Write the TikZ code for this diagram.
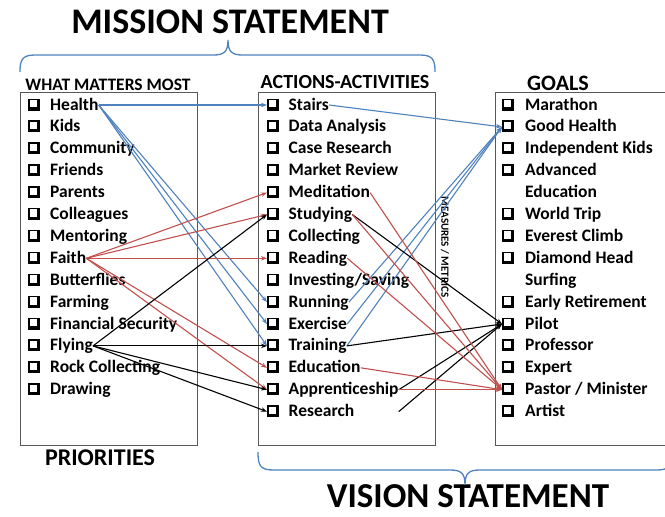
\documentclass[tikz,border=0pt]{standalone}
\usepackage{fontspec}
\setmainfont{Carlito}
\usetikzlibrary{arrows.meta}
\usetikzlibrary{calc}

\definecolor{linkblue}{HTML}{4F81BD}
\definecolor{linkred}{HTML}{C0504D}
\definecolor{boxgray}{HTML}{595959}

% shadowed check box in front of every entry
\newcommand{\chkbox}{\tikz[baseline=0pt, x=1pt, y=1pt] {\fill (0,-0.5) rectangle (12,11.5); \fill[white] (1.4,2.6) rectangle (9,10.1);}}

\tikzset{
    item/.style={anchor=base west, inner sep=0pt, text height=13pt, text depth=3pt, font=\bfseries\fontsize{17.5}{20}\selectfont},
    header/.style={anchor=base, inner sep=0pt, font=\bfseries\fontsize{#1}{#1}\selectfont},
    column/.style={draw=boxgray, line width=0.9pt},
    bracket/.style={linkblue, line width=1.3pt},
    link/.style={->, line width=1.1pt, >={Stealth[length=6pt, width=4.5pt]}},
}

\begin{document}
\begin{tikzpicture}[x=1pt, y=-1pt]
    \useasboundingbox (0,0) rectangle (665,517);
    \clip (0,0) rectangle (665,517);

    % ---- Titles and brackets ----
    \node [header=36] (mission) at (230,33) {MISSION STATEMENT};
    \node [header=35] (vision) at (468,507) {VISION STATEMENT};
    \node [header=24] (priorities) at (100,465) {PRIORITIES};

    \draw [bracket] (20,72) .. controls (20,60) and (22,55) .. (35,55) -- (213,55)
        .. controls (224,55) and (228,52) .. (228,40) .. controls (228,52) and (232,55) .. (243,55)
        -- (420,55) .. controls (433,55) and (435,60) .. (435,72);
    \draw [bracket] (258,452) .. controls (258,465) and (260,470) .. (273,470) -- (450,470)
        .. controls (461,470) and (465,473) .. (465,485) .. controls (465,473) and (469,470) .. (480,470)
        -- (657,470) .. controls (670,470) and (672,465) .. (672,452);

    % ---- Columns ----
    \draw [column] (20,92) rectangle (197,445);
    \draw [column] (258,92) rectangle (435,445);
    \draw [column] (495,92) rectangle (690,445);

    \node [header=17.5] (mattershead) at (108,90) {WHAT MATTERS MOST};
    \node [header=20] (actionshead) at (345,88) {ACTIONS-ACTIVITIES};
    \node [header=22] (goalshead) at (558,90) {GOALS};

    \node [rotate=-90, inner sep=0pt, font=\bfseries\fontsize{11}{11}\selectfont] (metrics) at (445,247) {MEASURES / METRICS};

    % What matters most
    \node [item] (health) at (28,110) {\chkbox\hspace{10pt}Health};
    \node [item] (kids) at (28,131.9) {\chkbox\hspace{10pt}Kids};
    \node [item] (community) at (28,153.8) {\chkbox\hspace{10pt}Community};
    \node [item] (friends) at (28,175.7) {\chkbox\hspace{10pt}Friends};
    \node [item] (parents) at (28,197.6) {\chkbox\hspace{10pt}Parents};
    \node [item] (colleagues) at (28,219.5) {\chkbox\hspace{10pt}Colleagues};
    \node [item] (mentoring) at (28,241.4) {\chkbox\hspace{10pt}Mentoring};
    \node [item] (faith) at (28,263.3) {\chkbox\hspace{10pt}Faith};
    \node [item] (butterflies) at (28,285.2) {\chkbox\hspace{10pt}Butterflies};
    \node [item] (farming) at (28,307.1) {\chkbox\hspace{10pt}Farming};
    \node [item] (financial) at (28,329) {\chkbox\hspace{10pt}Financial Security};
    \node [item] (flying) at (28,350.9) {\chkbox\hspace{10pt}Flying};
    \node [item] (rocks) at (28,372.8) {\chkbox\hspace{10pt}Rock Collecting};
    \node [item] (drawing) at (28,394.7) {\chkbox\hspace{10pt}Drawing};

    % Actions - activities
    \node [item] (stairs) at (267,110) {\chkbox\hspace{9.5pt}Stairs};
    \node [item] (data) at (267,131.9) {\chkbox\hspace{9.5pt}Data Analysis};
    \node [item] (cases) at (267,153.8) {\chkbox\hspace{9.5pt}Case Research};
    \node [item] (market) at (267,175.7) {\chkbox\hspace{9.5pt}Market Review};
    \node [item] (meditation) at (267,197.6) {\chkbox\hspace{9.5pt}Meditation};
    \node [item] (studying) at (267,219.5) {\chkbox\hspace{9.5pt}Studying};
    \node [item] (collecting) at (267,241.4) {\chkbox\hspace{9.5pt}Collecting};
    \node [item] (reading) at (267,263.3) {\chkbox\hspace{9.5pt}Reading};
    \node [item] (saving) at (267,285.2) {\chkbox\hspace{9.5pt}Investing/Saving};
    \node [item] (running) at (267,307.1) {\chkbox\hspace{9.5pt}Running};
    \node [item] (exercise) at (267,329) {\chkbox\hspace{9.5pt}Exercise};
    \node [item] (training) at (267,350.9) {\chkbox\hspace{9.5pt}Training};
    \node [item] (education) at (267,372.8) {\chkbox\hspace{9.5pt}Education};
    \node [item] (apprentice) at (267,394.7) {\chkbox\hspace{9.5pt}Apprenticeship};
    \node [item] (research) at (267,416.6) {\chkbox\hspace{9.5pt}Research};

    % Goals
    \node [item] (marathon) at (502,110) {\chkbox\hspace{11pt}Marathon};
    \node [item] (goodhealth) at (502,131.9) {\chkbox\hspace{11pt}Good Health};
    \node [item] (kidsgoal) at (502,153.8) {\chkbox\hspace{11pt}Independent Kids};
    \node [item] (advanced) at (502,175.7) {\chkbox\hspace{11pt}Advanced};
    \node [item] (advancedb) at (525,197.6) {Education};
    \node [item] (worldtrip) at (502,219.5) {\chkbox\hspace{11pt}World Trip};
    \node [item] (everest) at (502,241.4) {\chkbox\hspace{11pt}Everest Climb};
    \node [item] (diamond) at (502,263.3) {\chkbox\hspace{11pt}Diamond Head};
    \node [item] (diamondb) at (525,285.2) {Surfing};
    \node [item] (retirement) at (502,307.1) {\chkbox\hspace{11pt}Early Retirement};
    \node [item] (pilot) at (502,329) {\chkbox\hspace{11pt}Pilot};
    \node [item] (professor) at (502,350.9) {\chkbox\hspace{11pt}Professor};
    \node [item] (expert) at (502,372.8) {\chkbox\hspace{11pt}Expert};
    \node [item] (pastor) at (502,394.7) {\chkbox\hspace{11pt}Pastor / Minister};
    \node [item] (artist) at (502,416.6) {\chkbox\hspace{11pt}Artist};

    % priorities -> actions
    \draw [link, linkblue] (health.east) -- (stairs.west);
    \draw [link, linkblue] (health.east) -- (running.west);
    \draw [link, linkblue] (health.east) -- (exercise.west);
    \draw [link, linkblue] (health.east) -- (training.west);

    \draw [link, linkred] (faith.east) -- (meditation.west);
    \draw [link, linkred] (faith.east) -- (studying.west);
    \draw [link, linkred] (faith.east) -- (reading.west);
    \draw [link, linkred] (faith.east) -- (education.west);
    \draw [link, linkred] (faith.east) -- (apprentice.west);

    \draw [link] (flying.east) -- (studying.west);
    \draw [link] (flying.east) -- (training.west);
    \draw [link] (flying.east) -- (apprentice.west);
    \draw [link] (flying.east) -- (research.west);

    % actions -> goals
    \draw [link, linkblue] (stairs.east) -- (goodhealth.west);
    \draw [link, linkblue] (running.east) -- (goodhealth.west);
    \draw [link, linkblue] (exercise.east) -- (goodhealth.west);
    \draw [link, linkblue] (training.east) -- (goodhealth.west);

    \draw [link] (studying.east) -- (pilot.west);
    \draw [link] (training.east) -- (pilot.west);
    \draw [link] (apprentice.east) -- (pilot.west);
    \draw [link] (research.east -| apprentice.east) -- (pilot.west);

    \draw [link, linkred] (meditation.east) -- (pastor.west);
    \draw [link, linkred] (studying.east) -- (pastor.west);
    \draw [link, linkred] (reading.east) -- (pastor.west);
    \draw [link, linkred] (education.east) -- (pastor.west);
    \draw [link, linkred] (apprentice.east) -- (pastor.west);

\end{tikzpicture}
\end{document}
